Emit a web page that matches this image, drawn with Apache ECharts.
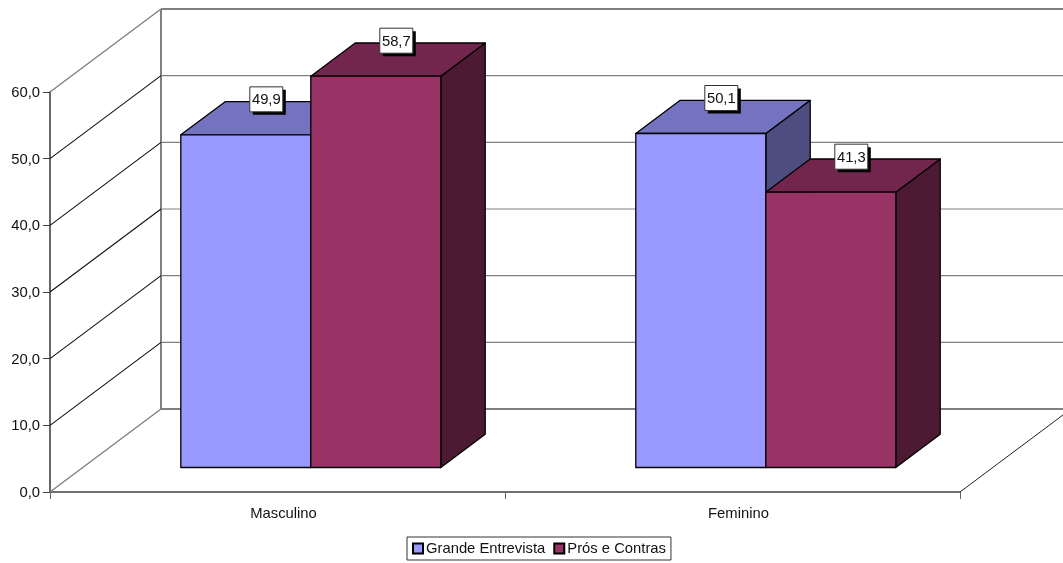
<!DOCTYPE html>
<html><head><meta charset="utf-8">
<style>html,body{margin:0;padding:0;background:#fff}#c{width:1063px;height:563px}</style>
<script src="https://cdn.jsdelivr.net/npm/echarts@6/dist/echarts.min.js"></script>
</head><body><div id="c"></div>
<script>
const categories = ['Masculino', 'Feminino'];
const grandeEntrevista = [49.9, 50.1];
const prosContras = [58.7, 41.3];
const yTicks = [0, 10, 20, 30, 40, 50, 60];
const seriesNames = ['Grande Entrevista', 'Prós e Contras'];

const FONT = '"Liberation Sans", Arial, sans-serif';
const FS = 14.8;
const WALL_DX = 111, WALL_DY = -83;
const fmt = v => v.toFixed(1).replace('.', ',');

function wallItem(params, api) {
  const cs = params.coordSys, v = api.value(0);
  const y = api.coord([0, v])[1];
  const l = cs.x, r = cs.x + cs.width, bottom = cs.y + cs.height, top = cs.y;
  const edge = (v === 0 || v === 60);
  const children = [
    {type:'polyline', shape:{points:[[l,y],[l+WALL_DX,y+WALL_DY]]},
     style:{fill:null, stroke: edge ? '#808080' : '#111', lineWidth: edge ? 1.4 : 1.1}},
    {type:'line', shape:{x1:l+WALL_DX,y1:y+WALL_DY,x2:r+WALL_DX,y2:y+WALL_DY},
     style:{stroke:'#808080', lineWidth: edge ? 2 : 1.2}}
  ];
  if (v === 0) {
    children.push({type:'line', shape:{x1:l+WALL_DX,y1:top+WALL_DY,x2:l+WALL_DX,y2:bottom+WALL_DY},
      style:{stroke:'#808080', lineWidth:2}});
    children.push({type:'line', shape:{x1:r,y1:bottom,x2:r+WALL_DX,y2:bottom+WALL_DY},
      style:{stroke:'#222', lineWidth:1}});
  }
  return {type:'group', children};
}

function barRender(seriesIdx, front, topC, side) {
  return function (params, api) {
    const band = api.size([1, 0])[0];
    const w = band * 2 / 7;
    const c = api.coord([api.value(0), api.value(1)]);
    const z = api.coord([api.value(0), 0]);
    const ox = WALL_DX * 0.3, oy = WALL_DY * 0.295;
    const dx = WALL_DX * 0.4, dy = WALL_DY * 0.4;
    const x0 = c[0] + ox - w + seriesIdx * w, x1 = x0 + w;
    const yt = c[1] + oy, yb = z[1] + oy;
    const ls = {stroke:'#000', lineWidth:1.3, lineJoin:'round'};
    const lx = c[0] + ox - w / 2 + seriesIdx * w + 20.5, ly = yt - 35.5;
    const bw = 33, bh = 25;
    return {type:'group', children:[
      {type:'polygon', shape:{points:[[x1,yt],[x1+dx,yt+dy],[x1+dx,yb+dy],[x1,yb]]}, style:Object.assign({fill:side},ls)},
      {type:'polygon', shape:{points:[[x0,yt],[x0+dx,yt+dy],[x1+dx,yt+dy],[x1,yt]]}, style:Object.assign({fill:topC},ls)},
      {type:'rect', shape:{x:x0,y:yt,width:w,height:yb-yt}, style:Object.assign({fill:front},ls)},
      {type:'rect', shape:{x:lx-bw/2+3,y:ly-bh/2+3,width:bw,height:bh}, style:{fill:'#000'}},
      {type:'rect', shape:{x:lx-bw/2,y:ly-bh/2,width:bw,height:bh}, style:{fill:'#fff',stroke:'#333',lineWidth:1}},
      {type:'text', style:{x:lx,y:ly+1,text:fmt(api.value(1)),fill:'#111',font:FS+'px '+FONT,align:'center',verticalAlign:'middle'}}
    ]};
  };
}

const chart = echarts.init(document.getElementById('c'), null, {renderer:'canvas'});
chart.setOption({
  animation:false,
  backgroundColor:'#fff',
  grid:{left:50, top:92, width:910, height:400},
  legend:{
    left:407, top:537, padding:[4,5,4,5], itemWidth:10, itemHeight:10, itemGap:8,
    borderColor:'#333', borderWidth:1, backgroundColor:'#fff',
    data:seriesNames.map(n=>({name:n, icon:'rect'})),
    textStyle:{fontFamily:FONT, fontSize:FS, color:'#111', padding:[1,0,0,-2]}
  },
  xAxis:{
    type:'category', data:categories,
    axisLine:{lineStyle:{color:'#404040', width:1.6}},
    axisTick:{show:true, length:7, alignWithLabel:false, lineStyle:{color:'#666', width:1}},
    axisLabel:{margin:14, fontFamily:FONT, fontSize:FS, color:'#111', padding:[0,0,0,12]},
    splitLine:{show:false}
  },
  yAxis:{
    type:'value', min:0, max:60, interval:10,
    axisLine:{show:true, lineStyle:{color:'#404040', width:1.6}},
    axisTick:{show:true, length:7, lineStyle:{color:'#404040', width:1}},
    axisLabel:{margin:10, fontFamily:FONT, fontSize:FS, color:'#111', formatter:fmt, verticalAlign:'top', lineHeight:2},
    splitLine:{show:false}
  },
  series:[
    {type:'custom', name:'walls', silent:true, z:1, clip:false, renderItem:wallItem,
     data:yTicks.map(v=>[v]), encode:{y:0}},
    {type:'custom', name:seriesNames[0], z:2, clip:false,
     itemStyle:{color:'#9999FF', borderColor:'#000', borderWidth:1},
     renderItem:barRender(0,'#9999FF','#7373BF','#4D4D80'),
     data:grandeEntrevista.map((v,i)=>[i,v]), encode:{x:0,y:1}},
    {type:'custom', name:seriesNames[1], z:3, clip:false,
     itemStyle:{color:'#993366', borderColor:'#000', borderWidth:1},
     renderItem:barRender(1,'#993366','#73264D','#4D1A33'),
     data:prosContras.map((v,i)=>[i,v]), encode:{x:0,y:1}}
  ]
});
</script></body></html>
